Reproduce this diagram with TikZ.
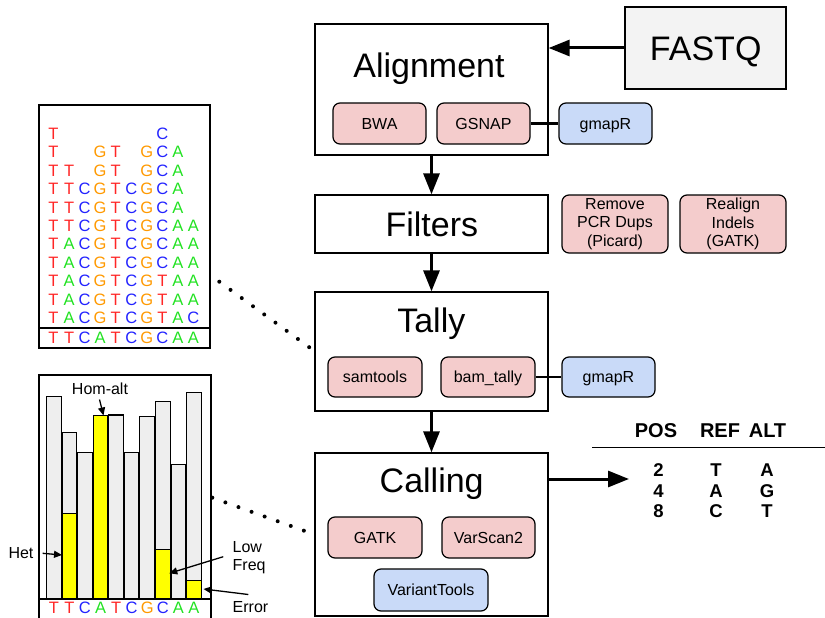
\documentclass[tikz,border=0pt]{standalone}
\usepackage{fontspec}
\setmainfont{Liberation Sans}
\usetikzlibrary{arrows.meta}

\definecolor{toolred}{HTML}{F4CCCC}
\definecolor{toolblue}{HTML}{C9DAF8}
\definecolor{inputgray}{HTML}{F3F3F3}
\definecolor{bargray}{HTML}{EEEEEE}
\definecolor{baryellow}{HTML}{FFFF00}
\definecolor{baseT}{HTML}{FF2626}
\definecolor{baseC}{HTML}{2323FF}
\definecolor{baseG}{HTML}{FF9900}
\definecolor{baseA}{HTML}{22E222}

% one row of coloured bases: #1 name prefix, #2 y, #3 first x, #4 step, #5 list ('-' = gap)
\newcommand\baserow[5]{%
  \foreach \ch [count=\i] in {#5}{%
    \if\ch-\else
      \node[base, text=base\ch] (#1-\i) at ({#3+#4*(\i-1)},#2) {\ch};
    \fi}}

\tikzset{
  stage/.style={draw, line width=1.3pt, fill=white, minimum width=233pt, inner sep=0pt},
  title/.style={anchor=base, inner sep=0pt, font=\fontsize{34}{40}\selectfont},
  tool/.style={draw, line width=1.2pt, rounded corners=7pt, fill=toolred, inner sep=0pt,
    font=\fontsize{16}{18.7}\selectfont},
  oneline/.style={text height=11.5pt, text depth=0pt},
  rtool/.style={tool, fill=toolblue},
  flow/.style={line width=3pt, -{Triangle[length=21pt,width=16pt]}},
  link/.style={line width=2.6pt},
  base/.style={inner sep=0pt, font=\fontsize{16.5}{19}\selectfont, text height=11.8pt, text depth=0pt},
  panel/.style={draw, line width=1.3pt},
  bar/.style={draw, line width=1.2pt, fill=bargray},
  hit/.style={draw, line width=1.2pt, fill=baryellow},
  note/.style={inner sep=0pt, font=\fontsize{16}{18.4}\selectfont},
  pointer/.style={line width=1.3pt, -{Triangle[length=8pt,width=7pt]}},
  dotline/.style={line width=4pt, line cap=round, dash pattern=on 0pt off 13.9pt},
  hdr/.style={inner sep=0pt, font=\fontsize{20}{24}\bfseries\selectfont},
  cell/.style={inner sep=0pt, font=\fontsize{18.5}{22}\bfseries\selectfont}
}

\begin{document}
\begin{tikzpicture}[x=1pt,y=-1pt]
\useasboundingbox (0,0) rectangle (825,618);
\clip (0,0) rectangle (825,618);

% ---- pipeline stages ----
\node[stage, minimum height=131pt] (align) at (431.5,89.5) {};
\node[title] (aligntitle) at (429,77.3) {Alignment};
\node[stage, minimum height=58pt] (filters) at (431.5,224) {};
\node[title] (filterstitle) at (431.9,236.7) {Filters};
\node[stage, minimum height=119pt] (tally) at (431.5,351.5) {};
\node[title] (tallytitle) at (431.3,332.7) {Tally};
\node[stage, minimum height=163pt] (calling) at (431.5,534.5) {};
\node[title] (callingtitle) at (431.7,492.7) {Calling};

\node[draw, line width=1.3pt, fill=inputgray, minimum width=161pt, minimum height=82pt,
  inner sep=0pt] (fastq) at (705.5,48) {};
\node[title] (fastqtitle) at (705.7,61) {FASTQ};

% ---- tools ----
\node[tool, oneline, minimum width=93pt, minimum height=41pt] (bwa) at (379.5,123.5) {BWA};
\node[tool, oneline, minimum width=93pt, minimum height=41pt] (gsnap) at (483.5,123.5) {GSNAP};
\node[rtool, oneline, minimum width=93pt, minimum height=41pt] (gmapra) at (605.5,123.5) {gmapR};

\node[tool, align=center, minimum width=106pt, minimum height=58pt] (dups) at (615,224)
  {Remove\\PCR Dups\\(Picard)};
\node[tool, align=center, minimum width=106pt, minimum height=58pt] (realign) at (733,224)
  {Realign\\Indels\\(GATK)};

\node[tool, oneline, minimum width=94pt, minimum height=40pt] (samtools) at (375,377) {samtools};
\node[tool, oneline, minimum width=94pt, minimum height=40pt] (bamtally) at (488,377) {bam\_tally};
\node[rtool, oneline, minimum width=93pt, minimum height=40pt] (gmaprb) at (608.5,377) {gmapR};

\node[tool, oneline, minimum width=94pt, minimum height=41pt] (gatk) at (375,537.5) {GATK};
\node[tool, oneline, minimum width=93pt, minimum height=41pt] (varscan) at (488.5,537.5) {VarScan2};
\node[rtool, oneline, minimum width=114pt, minimum height=42pt] (varianttools) at (431,590) {VariantTools};

\draw[link] (gsnap.east) -- (gmapra.west);
\draw[link] (bamtally.east) -- (gmaprb.west);

% ---- flow arrows ----
\draw[flow] (fastq.west) -- (fastq.west -| align.east);
\draw[flow] (align.south) -- (filters.north);
\draw[flow] (filters.south) -- (tally.north);
\draw[flow] (tally.south) -- (calling.north);
\coordinate (callsout) at (629,479);
\draw[flow] (callsout -| calling.east) -- (callsout);

% ---- variant table ----
\node[hdr] (hpos) at (656,430.5) {POS};
\node[hdr] (href) at (720,430.5) {REF};
\node[hdr] (halt) at (767.5,430.5) {ALT};
\draw[line width=1.3pt] (592,447.5) -- (826,447.5);
\foreach \p/\r/\a [count=\k] in {2/T/A, 4/A/G, 8/C/T}{
  \node[cell] (pos\k) at (658.5,{470.5+20.3*(\k-1)}) {\p};
  \node[cell] (ref\k) at (716,{470.5+20.3*(\k-1)}) {\r};
  \node[cell] (alt\k) at (767,{470.5+20.3*(\k-1)}) {\a};
}

% ---- pileup of reads ----
\draw[panel] (39,105) rectangle (210,348);
\draw[panel] (39,328) rectangle (210,348);
\baserow{ra}{133.3}{53.5}{15.55}{T,-,-,-,-,-,-,C}
\baserow{rb}{151.8}{53.5}{15.55}{T,-,-,G,T,-,G,C,A}
\baserow{rc}{170.2}{53.5}{15.55}{T,T,-,G,T,-,G,C,A}
\baserow{rd}{188.7}{53.5}{15.55}{T,T,C,G,T,C,G,C,A}
\baserow{re}{207.1}{53.5}{15.55}{T,T,C,G,T,C,G,C,A}
\baserow{rf}{225.6}{53.5}{15.55}{T,T,C,G,T,C,G,C,A,A}
\baserow{rg}{244.0}{53.5}{15.55}{T,A,C,G,T,C,G,C,A,A}
\baserow{rh}{262.5}{53.5}{15.55}{T,A,C,G,T,C,G,C,A,A}
\baserow{ri}{280.9}{53.5}{15.55}{T,A,C,G,T,C,G,T,A,A}
\baserow{rj}{299.4}{53.5}{15.55}{T,A,C,G,T,C,G,T,A,A}
\baserow{rk}{317.8}{53.5}{15.55}{T,A,C,G,T,C,G,T,A,C}
\baserow{rref}{337.5}{53.5}{15.55}{T,T,C,A,T,C,G,C,A,A}

% ---- allele counts ----
\draw[panel] (39,375) rectangle (211,640);
\foreach \top [count=\i] in {396.7,432.7,452.7,415.7,415,452.7,416.7,401.7,464.3,392.7}{
  \draw[bar] ({46+15.57*(\i-1)+0.4},599) rectangle ({46+15.57*\i-0.4},\top);
}
\foreach \i/\top in {2/513.3, 4/415.7, 8/549.3, 10/580.7}{
  \draw[hit] ({46+15.57*(\i-1)+0.4},599) rectangle ({46+15.57*\i-0.4},\top);
}
\draw[panel] (39,599) -- (211,599);
\baserow{cref}{607.5}{53.8}{15.57}{T,T,C,A,T,C,G,C,A,A}

\node[note] (homalt) at (100,389) {Hom-alt};
\coordinate (homtip) at (103.5,415.5);
\draw[pointer] (99.5,399.5) -- (homtip);

\node[note] (het) at (21,553.3) {Het};
\coordinate (hettip) at (62,555);
\draw[pointer] (het.east) ++(9,0) -- (hettip);

\node[note, anchor=west, align=left] (lowfreq) at (232.5,557.5) {Low\\Freq};
\coordinate (lowtip) at (169.3,573.3);
\draw[pointer] (223.3,556.7) -- (lowtip);

\node[note, anchor=west] (error) at (232.5,607.3) {Error};
\coordinate (errtip) at (203.5,589);
\draw[pointer] (248.3,594.5) -- (errtip);

% ---- zoom hints ----
\coordinate (pileupend) at (219.3,281.7);
\coordinate (tallyend) at (309.3,347.3);
\draw[dotline] (pileupend) -- (tallyend);
\coordinate (countsend) at (212.3,497.7);
\coordinate (callingend) at (304,530.7);
\draw[dotline] (countsend) -- (callingend);
\end{tikzpicture}
\end{document}
